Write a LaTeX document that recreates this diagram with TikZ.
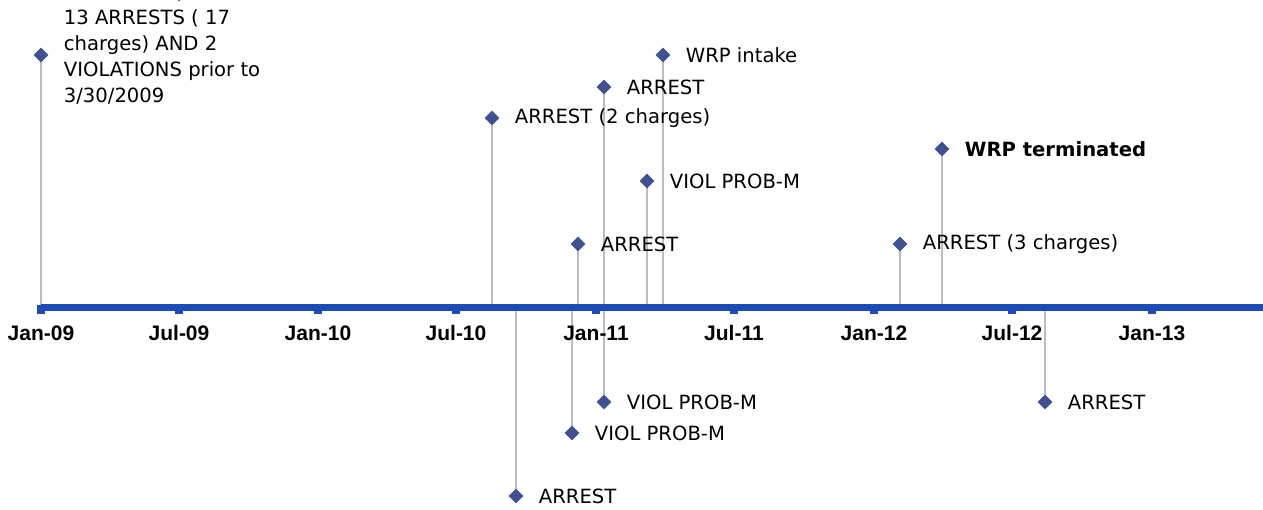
\documentclass[tikz,border=0pt]{standalone}
\usepackage{fontspec}
\setmainfont{DejaVu Sans}
\newfontfamily\axisfont{Liberation Sans}
\usetikzlibrary{shapes.geometric}
\pgfdeclarelayer{background}
\pgfsetlayers{background,main}
\definecolor{axisblue}{RGB}{30,76,182}
\definecolor{markblue}{RGB}{63,81,146}
\definecolor{stemgray}{RGB}{188,188,188}
\begin{document}
\begin{tikzpicture}[x=1pt,y=-1pt,
  evmark/.style={diamond, fill=markblue, inner sep=0pt, minimum width=15pt, minimum height=15pt},
  evlabel/.style={anchor=west, inner sep=0pt, xshift=15pt, font=\fontsize{19.6}{26}\selectfont},
  stemline/.style={draw=stemgray, line width=2.8pt},
  axisline/.style={draw=axisblue, line width=7pt},
  tickmark/.style={fill=axisblue, draw=none, minimum width=8pt, minimum height=9pt, inner sep=0pt},
  ticklabel/.style={inner sep=0pt, font=\axisfont\bfseries\fontsize{21}{24}\selectfont}
]
\useasboundingbox (0,0) rectangle (1263,509);

% time axis
\coordinate (axL) at (41,307);
\coordinate (axR) at (1263,307);
\draw[axisline] (axL) -- (axR);

% half-year ticks and their labels
\foreach \nm/\x/\txt in {t09a/41/Jan-09, t09b/179/Jul-09, t10a/318/Jan-10, t10b/456/Jul-10,
                         t11a/596/Jan-11, t11b/734/Jul-11, t12a/874/Jan-12, t12b/1012/Jul-12,
                         t13a/1152/Jan-13}{
  \node[tickmark] (\nm) at (\x,309) {};
  \node[ticklabel] (\nm-l) at (\x,333) {\txt};
}

% event markers
\node[evmark] (e0)  at (179,-6) {};
\node[evmark] (e1)  at (41,55) {};
\node[evmark] (e2)  at (492,118) {};
\node[evmark] (e3)  at (516,496) {};
\node[evmark] (e4)  at (572,433) {};
\node[evmark] (e5)  at (578,244) {};
\node[evmark] (e6)  at (604,87) {};
\node[evmark] (e7)  at (604,402) {};
\node[evmark] (e8)  at (647,181) {};
\node[evmark] (e9)  at (663,55) {};
\node[evmark] (e10) at (900,244) {};
\node[evmark] (e11) at (942,149) {};
\node[evmark] (e12) at (1045,402) {};

% stems down/up to the axis
\begin{pgfonlayer}{background}
  \foreach \e in {e1,e2,e3,e4,e5,e6,e7,e8,e9,e10,e11,e12}{
    \draw[stemline] (\e.center) -- (\e |- axL);
  }
\end{pgfonlayer}

% event texts
\node[evlabel, align=left, yshift=-2pt] (l1) at (e1.east) {13 ARRESTS ( 17\\charges) AND 2\\VIOLATIONS prior to\\3/30/2009};
\node[evlabel] (l2)  at (e2.east)  {ARREST (2 charges)};
\node[evlabel] (l3)  at (e3.east)  {ARREST};
\node[evlabel] (l4)  at (e4.east)  {VIOL PROB-M};
\node[evlabel] (l5)  at (e5.east)  {ARREST};
\node[evlabel] (l6)  at (e6.east)  {ARREST};
\node[evlabel] (l7)  at (e7.east)  {VIOL PROB-M};
\node[evlabel] (l8)  at (e8.east)  {VIOL PROB-M};
\node[evlabel] (l9)  at (e9.east)  {WRP intake};
\node[evlabel] (l10) at (e10.east) {ARREST (3 charges)};
\node[evlabel, font=\bfseries\fontsize{19.6}{26}\selectfont] (l11) at (e11.east) {WRP terminated};
\node[evlabel] (l12) at (e12.east) {ARREST};
\end{tikzpicture}
\end{document}
